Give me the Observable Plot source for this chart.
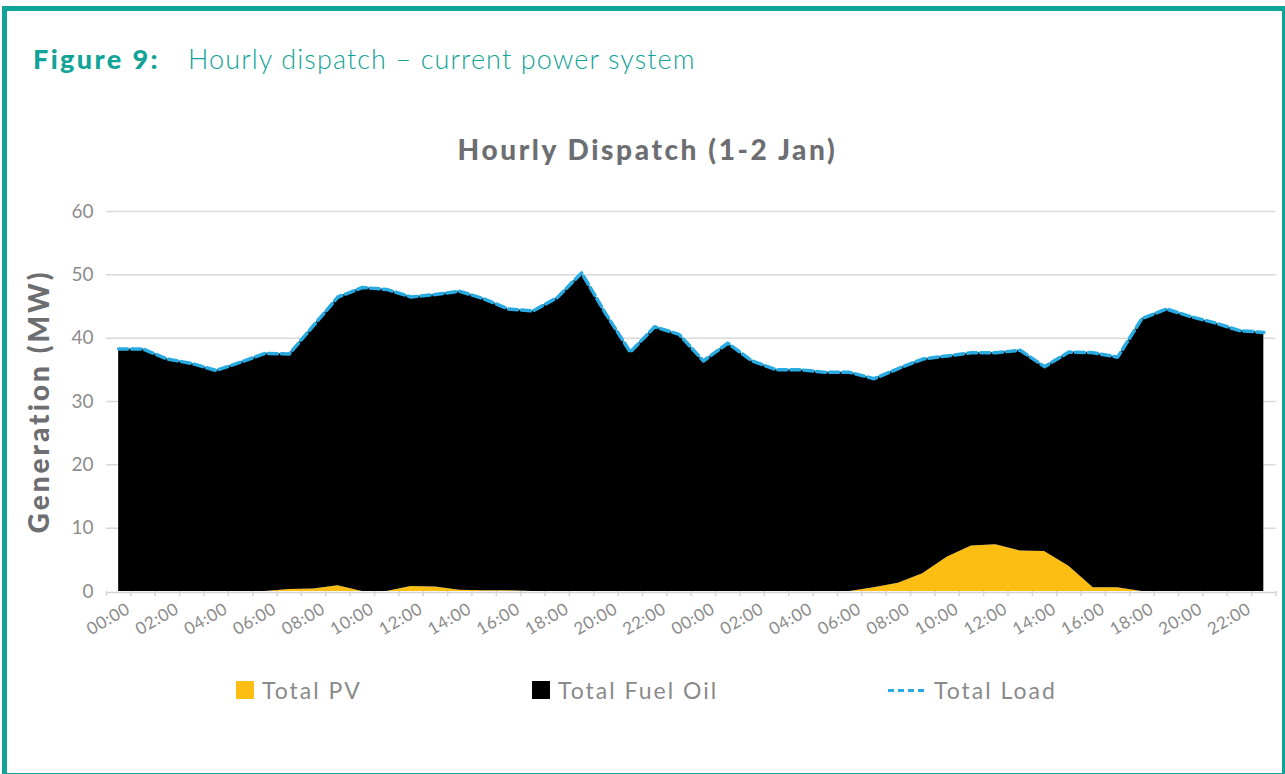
<!DOCTYPE html>
<html>
<head>
<meta charset="utf-8">
<script src="https://cdn.jsdelivr.net/npm/d3@7"></script>
<script src="https://cdn.jsdelivr.net/npm/@observablehq/plot@0.6"></script>
<style>
  html, body { margin: 0; padding: 0; background: #fff; }
  body { width: 1285px; height: 774px; position: relative; overflow: hidden; font-family: Lato, "Open Sans", sans-serif; }
  #frame { position: absolute; left: 2px; top: 6px; width: 1275px; height: 762px; border: 5px solid #12a398; }
  #fig { position: absolute; left: 33px; top: 42px; font-size: 27px; color: #12a398; white-space: nowrap; }
  #fig b { font-weight: 900; letter-spacing: 2.4px; margin-right: 28px; }
  #fig span { font-weight: 300; letter-spacing: 1.1px; }
  #title { position: absolute; left: 0; width: 1295px; text-align: center; top: 132px; font-size: 28px; font-weight: 900; color: #6d6e71; letter-spacing: 2.6px; }
  #chart { position: absolute; left: 0; top: 190px; }
  #legend { position: absolute; top: 675px; left: 0; width: 1285px; height: 30px; font-size: 23px; color: #8a8a8a; letter-spacing: 2px; }
  .item { position: absolute; top: 0; white-space: nowrap; display: flex; align-items: center; height: 30px; }
  .sw { display: inline-block; width: 18px; height: 18px; margin-right: 8px; }
  .dash { display: inline-block; width: 36px; height: 0; border-top: 3px dashed #29abe2; margin-right: 10px; }
</style>
</head>
<body>
<div id="frame"></div>
<div id="fig"><b>Figure 9:</b><span>Hourly dispatch – current power system</span></div>
<div id="title">Hourly Dispatch (1-2 Jan)</div>
<div id="chart"></div>
<div id="legend"></div>
<script>
// ---- data ----
const hours = [
  "00:00","01:00","02:00","03:00","04:00","05:00","06:00","07:00","08:00","09:00","10:00","11:00",
  "12:00","13:00","14:00","15:00","16:00","17:00","18:00","19:00","20:00","21:00","22:00","23:00",
  "00:00","01:00","02:00","03:00","04:00","05:00","06:00","07:00","08:00","09:00","10:00","11:00",
  "12:00","13:00","14:00","15:00","16:00","17:00","18:00","19:00","20:00","21:00","22:00","23:00"
];
const totalPV = [
  0, 0, 0, 0, 0, 0, 0, 0.3, 0.4, 0.9, 0, 0,
  0.8, 0.7, 0.2, 0.1, 0.1, 0, 0, 0, 0, 0, 0, 0,
  0, 0, 0, 0, 0, 0, 0, 0.6, 1.3, 2.8, 5.4, 7.2,
  7.4, 6.4, 6.3, 4.0, 0.6, 0.6, 0, 0, 0, 0, 0, 0
];
const totalFuelOil = [
  38.3, 38.3, 36.7, 36.0, 34.9, 36.2, 37.6, 37.2, 41.6, 45.6, 48.0, 47.7,
  45.7, 46.2, 47.2, 46.1, 44.5, 44.3, 46.4, 50.3, 43.8, 37.8, 41.8, 40.6,
  36.4, 39.2, 36.4, 35.0, 35.0, 34.6, 34.6, 33.0, 33.9, 33.9, 31.8, 30.5,
  30.3, 31.7, 29.2, 33.8, 37.1, 36.4, 43.1, 44.6, 43.4, 42.4, 41.2, 40.9
];
const totalLoad = [
  38.3, 38.3, 36.7, 36.0, 34.9, 36.2, 37.6, 37.5, 42.0, 46.5, 48.0, 47.7,
  46.5, 46.9, 47.4, 46.2, 44.6, 44.3, 46.4, 50.3, 43.8, 37.8, 41.8, 40.6,
  36.4, 39.2, 36.4, 35.0, 35.0, 34.6, 34.6, 33.6, 35.2, 36.7, 37.2, 37.7,
  37.7, 38.1, 35.5, 37.8, 37.7, 37.0, 43.1, 44.6, 43.4, 42.4, 41.2, 40.9
];
const yTicks = [0, 10, 20, 30, 40, 50, 60];
const seriesNames = ["Total PV", "Total Fuel Oil", "Total Load"];
const seriesColors = ["#fdbe14", "#000000", "#29abe2"];

// ---- tables built from the arrays ----
const idx = hours.map((h, i) => i);
const stacked = [
  ...idx.map(i => ({i, series: "Total PV", value: totalPV[i]})),
  ...idx.map(i => ({i, series: "Total Fuel Oil", value: totalFuelOil[i]}))
];
const loadRows = idx.map(i => ({i, value: totalLoad[i]}));
const labelRows = idx.filter(i => i % 2 === 0).map(i => ({i, label: hours[i]}));
const boundaries = [...idx.map(i => i - 0.5), idx.length - 0.5];

const plot = Plot.plot({
  width: 1285,
  height: 440,
  marginLeft: 106,
  marginRight: 9.5,
  marginTop: 21,
  marginBottom: 39,
  style: {fontFamily: "Lato, 'Open Sans', sans-serif", background: "transparent", overflow: "visible"},
  x: {type: "linear", domain: [-0.5, idx.length - 0.5], axis: null},
  y: {domain: [0, 60], axis: null},
  color: {domain: seriesNames.slice(0, 2), range: seriesColors.slice(0, 2)},
  marks: [
    Plot.gridY(yTicks.filter(d => d > 0), {stroke: "#d9d9d9", strokeOpacity: 1, strokeWidth: 1.5}),
    Plot.axisY(yTicks, {tickSize: 0, tickPadding: 13, fontSize: 19, fill: "#8c8c8c", label: null}),
    Plot.areaY(stacked, Plot.stackY({x: "i", y: "value", fill: "series", z: "series"})),
    Plot.ruleY([0], {stroke: "#d4d4d4", strokeWidth: 1.5, dy: 1}),
    Plot.axisX(boundaries, {tickSize: 5, tickFormat: () => "", stroke: "#d4d4d4", strokeWidth: 1.5, label: null}),
    Plot.lineY(loadRows, {x: "i", y: "value", stroke: seriesColors[2], strokeWidth: 3.5, strokeDasharray: "9,4"}),
    Plot.text(labelRows, {x: "i", text: "label", frameAnchor: "bottom", rotate: -30, textAnchor: "end", lineAnchor: "middle", dx: 10, dy: 16, fontSize: 17, fill: "#8c8c8c"}),
    Plot.text(["Generation (MW)"], {frameAnchor: "left", rotate: -90, textAnchor: "middle", lineAnchor: "middle", dx: -66, fontSize: 28, fontWeight: 900, fill: "#6d6e71"})
  ]
});
// letter spacing for the y-axis title and hour labels
plot.querySelectorAll("text").forEach(t => {
  if (t.textContent === "Generation (MW)") t.setAttribute("letter-spacing", "3px");
  if (/^\d\d:\d\d$/.test(t.textContent)) t.setAttribute("letter-spacing", "0.6px");
});
document.getElementById("chart").appendChild(plot);

// ---- legend ----
const legend = document.getElementById("legend");
const legendX = [236, 532, 888];
seriesNames.forEach((name, k) => {
  const item = document.createElement("div");
  item.className = "item";
  item.style.left = legendX[k] + "px";
  const mark = document.createElement("span");
  if (k < 2) { mark.className = "sw"; mark.style.background = seriesColors[k]; }
  else { mark.className = "dash"; }
  item.appendChild(mark);
  item.appendChild(document.createTextNode(name));
  legend.appendChild(item);
});
</script>
</body>
</html>
